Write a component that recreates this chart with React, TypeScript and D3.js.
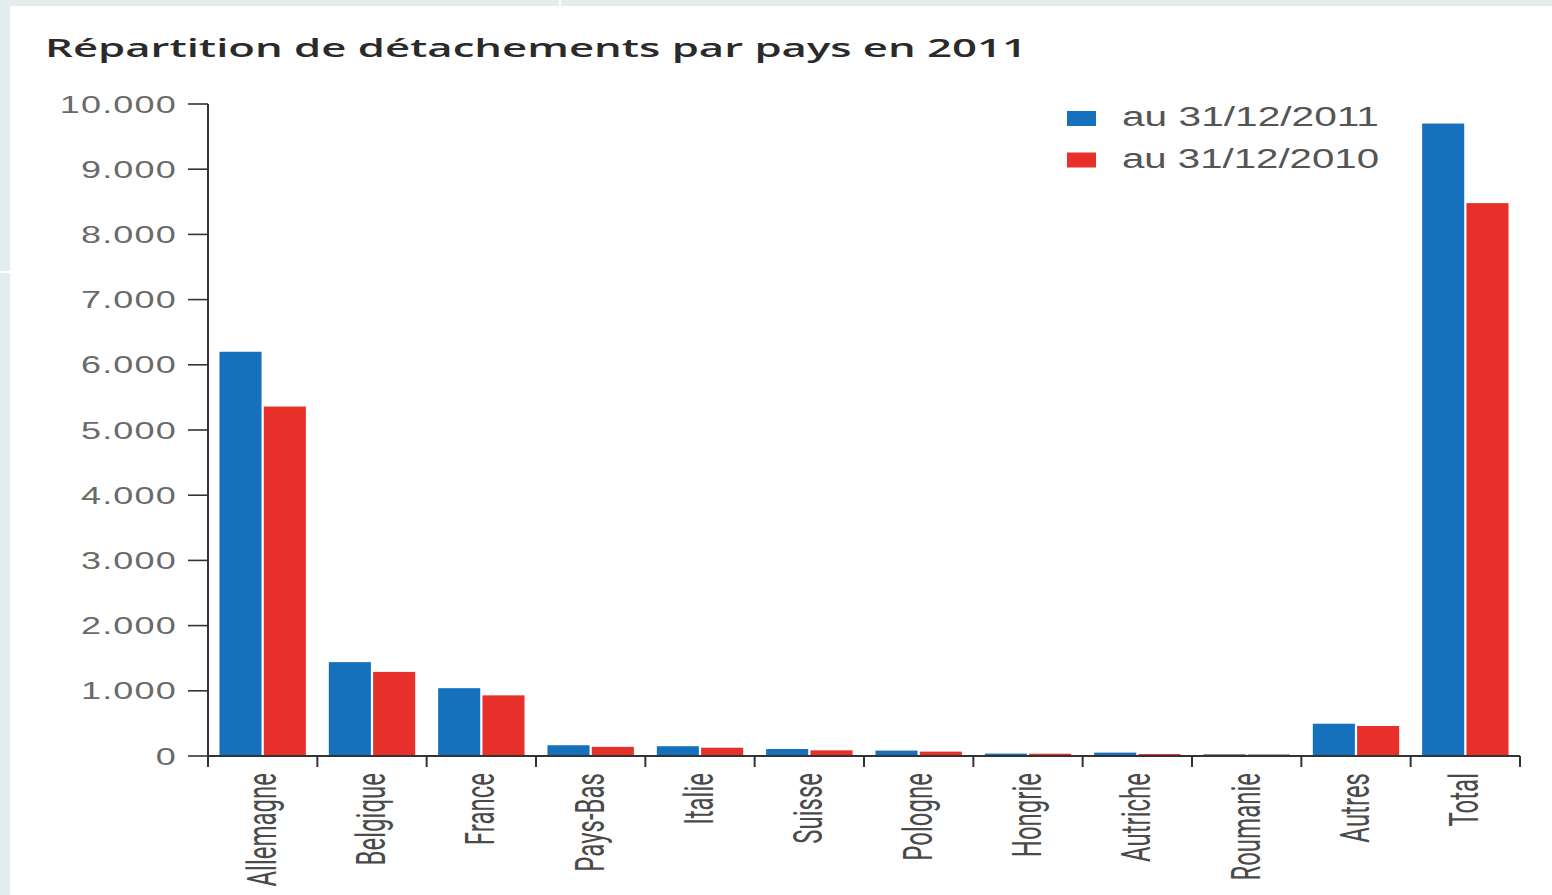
import React from "react";
import * as d3 from "d3";

const title = "Répartition de détachements par pays en 2011";
const categories = ["Allemagne", "Belgique", "France", "Pays-Bas", "Italie", "Suisse", "Pologne", "Hongrie", "Autriche", "Roumanie", "Autres", "Total"];
const seriesLabels = ["au 31/12/2011", "au 31/12/2010"];
const values2011 = [6200, 1440, 1040, 165, 150, 107, 83, 37, 52, 24, 495, 9700];
const values2010 = [5360, 1290, 930, 140, 127, 87, 67, 35, 30, 22, 460, 8480];
const yTicks = [0, 1000, 2000, 3000, 4000, 5000, 6000, 7000, 8000, 9000, 10000];
const seriesColors = ["#1571bc", "#e8302a"];

const W = 1552;
const H = 895;
const left = 208;
const right = 1520;
const top = 104;
const bottom = 756;

const locale = d3.formatLocale({ decimal: ",", thousands: ".", grouping: [3], currency: ["", " €"] });
const fmt = locale.format(",d");

export default function App() {
  const x = d3.scaleBand<string>().domain(categories).range([left, right]).paddingInner(0).paddingOuter(0);
  const bw = x.bandwidth();
  const sub = d3.scaleBand<number>().domain([0, 1]).range([bw * 0.105, bw * 0.895]).paddingInner(0.05);
  const y = d3.scaleLinear().domain([0, 10000]).range([bottom, top]);
  const series = [values2011, values2010];
  const boundaries = [...categories.map((c) => x(c) as number), right];

  return (
    <svg width={W} height={H} style={{ position: "absolute", left: 0, top: 0, background: "#ffffff" }}>
      {/* page frame */}
      <rect x={0} y={0} width={W} height={H} fill="#ffffff" />
      <rect x={0} y={0} width={W} height={6} fill="#e4eded" />
      <rect x={0} y={0} width={10} height={H} fill="#e4eded" />
      <line x1={560} x2={560} y1={0} y2={6} stroke="#ffffff" strokeWidth={2} />
      <line x1={0} x2={10} y1={272} y2={272} stroke="#ffffff" strokeWidth={2} />

      {/* title */}
      <text x={45} y={57} fontFamily="'Open Sans', 'Noto Sans', sans-serif" fontWeight={600} fontSize={25} fill="#2a2a2a" textLength={982} lengthAdjust="spacingAndGlyphs">
        {title}
      </text>

      {/* bars */}
      {categories.map((c, i) => (
        <g key={c}>
          {series.map((vals, s) => (
            <rect
              key={s}
              x={(x(c) as number) + (sub(s) as number)}
              y={y(vals[i])}
              width={sub.bandwidth()}
              height={Math.max(0, bottom - y(vals[i]))}
              fill={i === 9 ? "#333" : seriesColors[s]}
            />
          ))}
        </g>
      ))}

      {/* y axis */}
      <line x1={left} x2={left} y1={y(10000)} y2={bottom + 11} stroke="#333" strokeWidth={2} />
      {yTicks.map((t) => (
        <g key={t}>
          <line x1={left - 20} x2={left} y1={y(t)} y2={y(t)} stroke="#333" strokeWidth={1.6} />
          <text
            transform={`translate(${left - 31},${y(t) + 8.5}) scale(1.5,1)`}
            textAnchor="end"
            fontFamily="'Liberation Sans', Arial, sans-serif"
            fontSize={24}
            letterSpacing={0.8}
            fill="#6a6a6a"
          >
            {fmt(t)}
          </text>
        </g>
      ))}

      {/* x axis */}
      <line x1={left} x2={right} y1={bottom} y2={bottom} stroke="#333" strokeWidth={2} />
      {boundaries.map((b, i) => (
        <line key={i} x1={b} x2={b} y1={bottom} y2={bottom + 11} stroke="#333" strokeWidth={2} />
      ))}
      {categories.map((c) => {
        const cx = (x(c) as number) + bw / 2;
        return (
          <text
            key={c}
            transform={`translate(${cx + 13},${bottom + 17}) scale(1.7,1) rotate(-90)`}
            textAnchor="end"
            fontFamily="Roboto, 'Liberation Sans', sans-serif"
            fontWeight={400}
            fontSize={24}
            fill="#4a4a4a"
          >
            {c}
          </text>
        );
      })}

      {/* legend */}
      {seriesLabels.map((l, i) => (
        <g key={l}>
          <rect x={1067} y={111 + i * 41.5} width={29} height={15} fill={seriesColors[i]} />
          <text
            x={1122}
            y={126 + i * 41.5}
            fontFamily="'Liberation Sans', Arial, sans-serif"
            fontSize={27}
            fill="#555"
            textLength={257}
            lengthAdjust="spacingAndGlyphs"
          >
            {l}
          </text>
        </g>
      ))}
    </svg>
  );
}
